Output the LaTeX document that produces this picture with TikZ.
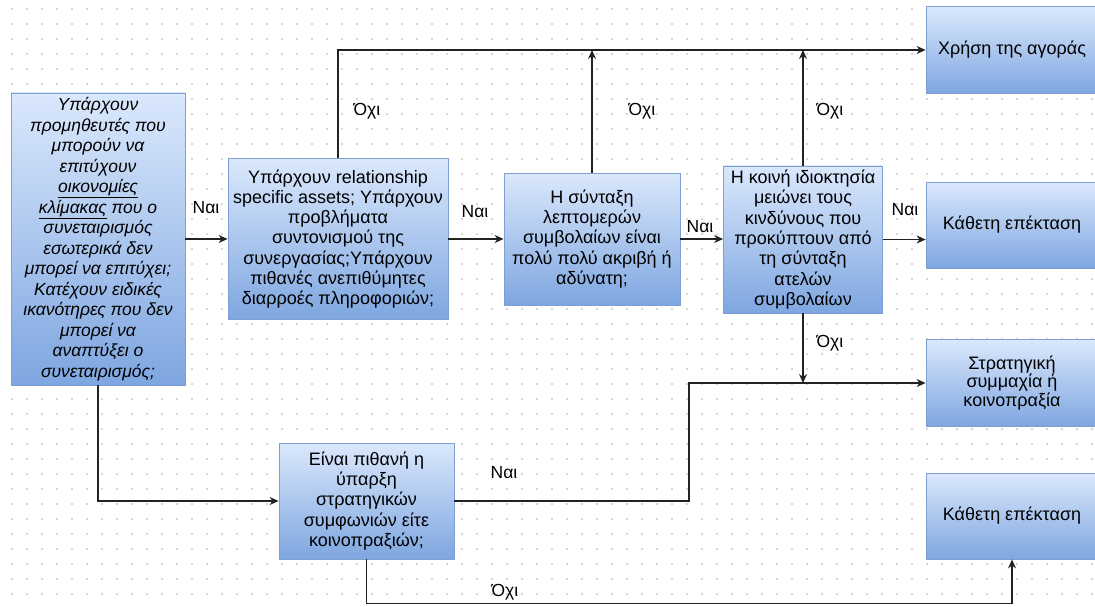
\documentclass[tikz,border=0pt]{standalone}
\usepackage{fontspec}
\setmainfont{Liberation Sans}
\usetikzlibrary{arrows.meta, positioning}
\definecolor{boxtop}{HTML}{DAE8FC}
\definecolor{boxbottom}{HTML}{7EA6E0}
\definecolor{boxline}{HTML}{7E9FCF}
\definecolor{griddot}{HTML}{D6D6D6}
\definecolor{darkline}{HTML}{222222}

\begin{document}
\begin{tikzpicture}[x=1pt, y=-1pt,
  box/.style={rectangle, draw=boxline, line width=0.8pt, top color=boxtop, bottom color=boxbottom, align=center, inner sep=0pt, font=\fontsize{18}{20.3}\selectfont},
  arr/.style={-{Stealth[length=9pt, width=8pt]}, line width=1.1pt, color=darkline},
  lbl/.style={font=\fontsize{17.5}{20}\selectfont},
  griddots/.style={griddot, line width=1.1pt, dash pattern=on 1.1pt off 13.9pt}
]
\useasboundingbox (0,0) rectangle (1095,607);
\fill[white] (0,0) rectangle (1095,607);

% Canvas grid
\foreach \y in {9,24,...,604}
  \draw[griddots] (11.45,\y) -- (1095,\y);

% Questions
\node[box, minimum width=174pt, minimum height=292pt, font=\itshape\fontsize{17.5}{20.5}\selectfont] (coop) at (98,239) {Υπάρχουν\\ προμηθευτές που\\ μπορούν να\\ επιτύχουν\\ \underline{οικονομίες}\\ \underline{κλίμακας} που ο\\ συνεταιρισμός\\ εσωτερικά δεν\\ μπορεί να επιτύχει;\\ Κατέχουν ειδικές\\ ικανότηρες που δεν\\ μπορεί να\\ αναπτύξει ο\\ συνεταιρισμός;};
\node[box, minimum width=220pt, minimum height=161pt] (assets) at (338,239) {Υπάρχουν relationship\\ specific assets; Υπάρχουν\\ προβλήματα\\ συντονισμού της\\ συνεργασίας;Υπάρχουν\\ πιθανές ανεπιθύμητες\\ διαρροές πληροφοριών;};
\node[box, minimum width=176pt, minimum height=132pt] (contracts) at (592,239) {Η σύνταξη\\ λεπτομερών\\ συμβολαίων είναι\\ πολύ πολύ ακριβή ή\\ αδύνατη;};
\node[box, minimum width=159pt, minimum height=147pt] (owner) at (803,239.5) {Η κοινή ιδιοκτησία\\ μειώνει τους\\ κινδύνους που\\ προκύπτουν από\\ τη σύνταξη\\ ατελών\\ συμβολαίων};
\node[box, minimum width=175pt, minimum height=116pt] (strategic) at (366.5,501) {Είναι πιθανή η\\ ύπαρξη\\ στρατηγικών\\ συμφωνιών είτε\\ κοινοπραξιών;};

% Outcomes
\node[box, minimum width=172pt, minimum height=87pt] (market) at (1012,50) {Χρήση της αγοράς};
\node[box, minimum width=172pt, minimum height=86pt] (vertical) at (1012,225) {Κάθετη επέκταση};
\node[box, minimum width=172pt, minimum height=87pt, font=\fontsize{18}{18.5}\selectfont] (alliance) at (1012,383) {Στρατηγική\\ συμμαχία ή\\ κοινοπραξία};
\node[box, minimum width=172pt, minimum height=86pt] (vertical2) at (1012,516) {Κάθετη επέκταση};

% Connectors
\draw[arr] (coop.east) -- (coop.east -| assets.west);
\draw[arr] (assets.east) -- (assets.east -| contracts.west);
\draw[arr] (contracts.east) -- (contracts.east -| owner.west);
\draw[arr] (owner.east) -- (owner.east -| vertical.west);
\draw[arr] (assets.north) |- (market.west);
\draw[arr] (contracts.north) -- (contracts.north |- market.west);
\draw[arr] (owner.north) -- (owner.north |- market.west);
\draw[arr] (owner.south) -- (owner.south |- alliance.west);
\draw[arr] (coop.south) |- (strategic.west);
\coordinate (joint) at (689,383);
\draw[arr] (strategic.east) -| (joint) -- (alliance.west);
\draw[arr] (strategic.south) -- ++(0,44) -| (vertical2.south);

% Labels
\node[lbl] (yes1) at (206,208) {Ναι};
\node[lbl] (yes2) at (475,212) {Ναι};
\node[lbl] (yes3) at (700,227) {Ναι};
\node[lbl] (yes4) at (905,210) {Ναι};
\node[lbl] (yes5) at (504,473) {Ναι};
\node[lbl] (no1) at (367,111) {Όχι};
\node[lbl] (no2) at (642,111) {Όχι};
\node[lbl] (no3) at (830,111) {Όχι};
\node[lbl] (no4) at (830,343) {Όχι};
\node[lbl] (no5) at (505,592) {Όχι};

\end{tikzpicture}
\end{document}
